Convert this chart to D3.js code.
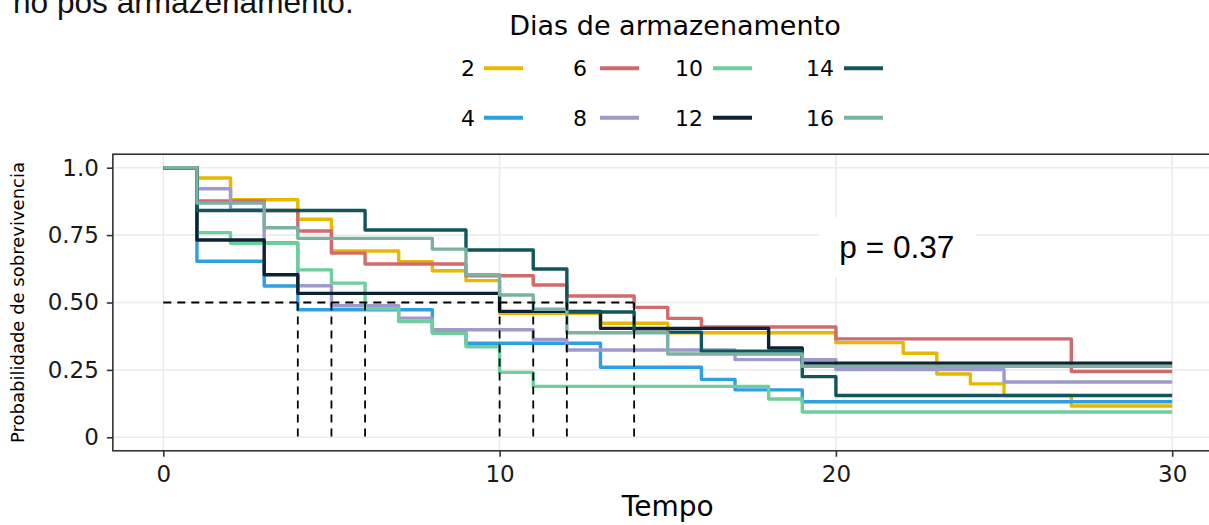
<!DOCTYPE html>
<html><head><meta charset="utf-8">
<script src="https://cdn.jsdelivr.net/npm/d3@7"></script>
<style>body{margin:0;background:#fff;} svg{display:block;}</style>
</head><body>
<svg id="c" width="1209" height="525"></svg>
<script>
// ---- data ----
const groups = ["2","4","6","8","10","12","14","16"];
const colors = ["#E7B800","#2E9FDF","#D06B6B","#9E9ACB","#6CCF9C","#0C2233","#11565A","#7AB1A3"];
const t2  = [0,1,2,4,5,7,8,9,10,13,15,20,22,23,24,25,27];
const s2  = [1,0.962,0.881,0.809,0.691,0.651,0.618,0.581,0.46,0.423,0.388,0.351,0.312,0.235,0.198,0.155,0.116];
const t4  = [0,1,3,4,8,9,13,16,17,19];
const s4  = [1,0.653,0.561,0.473,0.388,0.349,0.26,0.215,0.176,0.132];
const t6  = [0,1,3,4,5,6,9,11,12,14,15,16,20,27];
const s6  = [1,0.877,0.841,0.765,0.683,0.643,0.599,0.565,0.524,0.482,0.441,0.409,0.365,0.244];
const t8  = [0,1,2,3,4,5,7,8,11,12,17,20,25];
const s8  = [1,0.922,0.843,0.722,0.562,0.488,0.442,0.399,0.363,0.324,0.288,0.251,0.205];
const t10 = [0,1,2,4,5,6,7,8,9,10,11,18,19];
const s10 = [1,0.759,0.72,0.621,0.572,0.477,0.429,0.386,0.336,0.241,0.189,0.142,0.094];
const t12 = [0,1,3,4,10,13,18,19];
const s12 = [1,0.732,0.603,0.534,0.467,0.404,0.331,0.275];
const t14 = [0,1,6,9,11,12,14,16,19,20];
const s14 = [1,0.841,0.769,0.695,0.624,0.465,0.39,0.319,0.225,0.155];
const t16 = [0,1,3,4,8,9,10,11,12,15,19];
const s16 = [1,0.869,0.777,0.738,0.698,0.603,0.528,0.475,0.388,0.309,0.263];
const times = [t2,t4,t6,t8,t10,t12,t14,t16];
const survs = [s2,s4,s6,s8,s10,s12,s14,s16];
const tEnd = 30;
const xTicks = [0,10,20,30];
const yTicks = [0,0.25,0.5,0.75,1];
const yTickLabels = ["0","0.25","0.50","0.75","1.0"];
const pLabel = "p = 0.37";
const legendTitle = "Dias de armazenamento";
const xTitle = "Tempo";
const yTitle = "Probabilidade de sobrevivencia";
const caption = "no pós armazenamento.";

// ---- scales ----
const svg = d3.select("#c");
const x = d3.scaleLinear().domain([0,30]).range([163.3,1172.2]);
const y = d3.scaleLinear().domain([0,1]).range([437.3,167.7]);
const pl = x(-1.5), pr = x(31.5), pt = y(1.05), pb = y(-0.05);

svg.append("rect").attr("width",1209).attr("height",525).attr("fill","#fff");

// caption (cut at top in the original)
svg.append("text").attr("x",13).attr("y",12.5)
  .attr("font-family","Liberation Sans, Arial, sans-serif").attr("font-size",31.6)
  .attr("fill","#111").text(caption);

// gridlines
const g = svg.append("g");
g.selectAll(".gx").data(xTicks).join("line")
  .attr("x1",d=>x(d)).attr("x2",d=>x(d)).attr("y1",pt).attr("y2",pb)
  .attr("stroke","#EBEBEB").attr("stroke-width",1.6);
g.selectAll(".gy").data(yTicks).join("line")
  .attr("x1",pl).attr("x2",pr).attr("y1",d=>y(d)).attr("y2",d=>y(d))
  .attr("stroke","#EBEBEB").attr("stroke-width",1.6);

// curves
const line = d3.line().x(d=>x(d[0])).y(d=>y(d[1])).curve(d3.curveStepAfter);
groups.forEach((gname,i)=>{
  const pts = times[i].map((t,j)=>[t,survs[i][j]]);
  pts.push([tEnd, survs[i][survs[i].length-1]]);
  svg.append("path").datum(pts).attr("d",line)
    .attr("fill","none").attr("stroke",colors[i]).attr("stroke-width",3.4)
    .attr("stroke-linejoin","round").attr("stroke-linecap","butt");
});

// median lines
const medians = survs.map((s,i)=>{ const j = s.findIndex(v=>v<=0.5); return j>=0 ? times[i][j] : null; }).filter(v=>v!==null);
const maxMed = d3.max(medians);
svg.append("line").attr("x1",x(0)).attr("x2",x(maxMed)).attr("y1",y(0.5)).attr("y2",y(0.5))
  .attr("stroke","#000").attr("stroke-width",1.8).attr("stroke-dasharray","8,6");
svg.selectAll(".med").data(Array.from(new Set(medians))).join("line")
  .attr("x1",d=>x(d)).attr("x2",d=>x(d)).attr("y1",y(0.5)).attr("y2",y(0))
  .attr("stroke","#000").attr("stroke-width",1.8).attr("stroke-dasharray","8,6");

// p value label
svg.append("rect").attr("x",819).attr("y",217).attr("width",157).attr("height",60).attr("fill","#fff");
svg.append("text").attr("x",x(20)+61).attr("y",258).attr("text-anchor","middle")
  .attr("font-family","Liberation Sans, Arial, sans-serif").attr("font-size",31.6)
  .attr("fill","#000").text(pLabel);

// panel border
svg.append("rect").attr("x",pl).attr("y",pt).attr("width",pr-pl).attr("height",pb-pt)
  .attr("fill","none").attr("stroke","#333").attr("stroke-width",1.6);

// axes
const axX = svg.append("g").attr("transform",`translate(0,${pb})`)
  .call(d3.axisBottom(x).tickValues(xTicks).tickSize(6).tickPadding(9).tickFormat(d3.format("d")));
const axY = svg.append("g").attr("transform",`translate(${pl},0)`)
  .call(d3.axisLeft(y).tickValues(yTicks).tickSize(6).tickPadding(8).tickFormat((d,i)=>yTickLabels[i]));
[axX,axY].forEach(a=>{
  a.select(".domain").remove();
  a.selectAll(".tick line").attr("stroke","#333").attr("stroke-width",1.6);
  a.selectAll(".tick text").attr("fill","#1a1a1a").attr("font-family","DejaVu Sans, sans-serif").attr("font-size",23);
});

// axis titles
svg.append("text").attr("x",(pl+pr)/2).attr("y",516).attr("text-anchor","middle")
  .attr("font-family","DejaVu Sans, sans-serif").attr("font-size",28).attr("fill","#000").text(xTitle);
svg.append("text").attr("transform",`translate(24,${(pt+pb)/2}) rotate(-90)`).attr("text-anchor","middle")
  .attr("font-family","DejaVu Sans, sans-serif").attr("font-size",18).attr("fill","#000").text(yTitle);

// legend
svg.append("text").attr("x",675).attr("y",35).attr("text-anchor","middle")
  .attr("font-family","DejaVu Sans, sans-serif").attr("font-size",27).attr("fill","#000").text(legendTitle);
const keyX = [484,600,713,844];
const labelX = [475,587,703,834];
const rowY = [68.3,117.7];
groups.forEach((gname,i)=>{
  const col = Math.floor(i/2), row = i%2;
  svg.append("line").attr("x1",keyX[col]).attr("x2",keyX[col]+39).attr("y1",rowY[row]).attr("y2",rowY[row])
    .attr("stroke",colors[i]).attr("stroke-width",4);
  svg.append("text").attr("x",labelX[col]).attr("y",rowY[row]+8).attr("text-anchor","end")
    .attr("font-family","DejaVu Sans, sans-serif").attr("font-size",22).attr("fill","#000").text(gname);
});
</script>
</body></html>
